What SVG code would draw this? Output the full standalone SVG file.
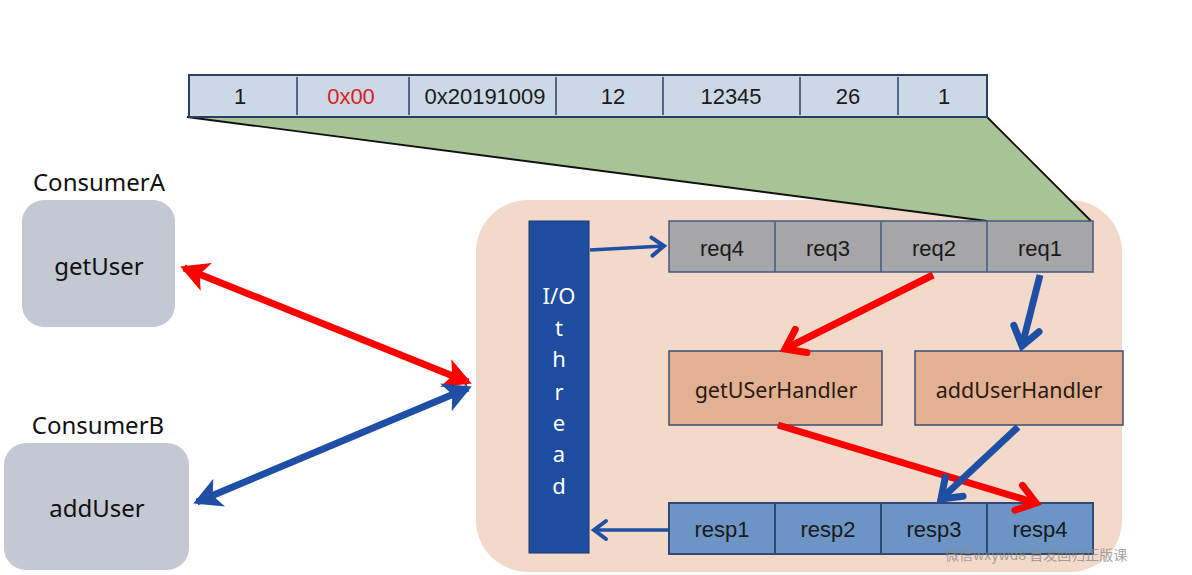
<svg xmlns="http://www.w3.org/2000/svg" width="1192" height="575" viewBox="0 0 1192 575">
<defs>
<style>
.t{font-family:"Liberation Sans",Arial,sans-serif;font-size:22px;fill:#1a1a1a;text-anchor:middle;dominant-baseline:central}
.n{font-family:"Noto Sans","Open Sans",sans-serif;font-size:24px;fill:#111;text-anchor:middle;dominant-baseline:central}
.h{font-family:"Noto Sans","Open Sans",sans-serif;font-size:21.5px;fill:#2a1a10;text-anchor:middle;dominant-baseline:central}
.bar{fill:#cdd8e7;stroke:#2b3f66;stroke-width:2}
.div{stroke:#2b3f66;stroke-width:1.5}
.req{fill:#a6a6a8;stroke:#44587e;stroke-width:1.5}
.resp{fill:#6c95c5;stroke:#2d4a78;stroke-width:2}
.hand{fill:#e2b193;stroke:#3d4f72;stroke-width:1.5}
.cons{fill:#c3c8d2}
.io{font-family:"Noto Sans","Open Sans",sans-serif;font-size:22px;fill:#fff;text-anchor:middle;dominant-baseline:central}
.red{stroke:#ff0000;stroke-width:7;fill:none}
.blue{stroke:#1f4fa5;stroke-width:7;fill:none}
.thin{stroke:#1f4fa5;stroke-width:3.5;fill:none}
</style>
<marker id="chR" markerUnits="userSpaceOnUse" viewBox="-30 -20 40 40" markerWidth="40" markerHeight="40" refX="0" refY="0" orient="auto" overflow="visible"><path d="M-18,-13 L0,0 L-18,13" fill="none" stroke="#ff0000" stroke-width="7" stroke-linecap="round"/></marker>
<marker id="chB" markerUnits="userSpaceOnUse" viewBox="-30 -20 40 40" markerWidth="40" markerHeight="40" refX="0" refY="0" orient="auto" overflow="visible"><path d="M-18,-13 L0,0 L-18,13" fill="none" stroke="#1f4fa5" stroke-width="7" stroke-linecap="round"/></marker>
<marker id="chBs" markerUnits="userSpaceOnUse" viewBox="-30 -20 40 40" markerWidth="40" markerHeight="40" refX="0" refY="0" orient="auto" overflow="visible"><path d="M-12,-9 L0,0 L-12,9" fill="none" stroke="#1f4fa5" stroke-width="4" stroke-linecap="round"/></marker>
<marker id="hR" markerUnits="userSpaceOnUse" viewBox="-30 -20 40 40" markerWidth="40" markerHeight="40" refX="0" refY="0" orient="auto-start-reverse" overflow="visible"><path d="M4,0 L-24,-15 L-17,0 L-24,15 Z" fill="#ff0000"/></marker>
<marker id="hB" markerUnits="userSpaceOnUse" viewBox="-30 -20 40 40" markerWidth="40" markerHeight="40" refX="0" refY="0" orient="auto-start-reverse" overflow="visible"><path d="M4,0 L-24,-15 L-17,0 L-24,15 Z" fill="#1f4fa5"/></marker>
</defs>
<rect width="1192" height="575" fill="#ffffff"/>

<g id="server-bg"><rect x="476" y="200" width="646" height="372" rx="52" fill="#f3d9c9"/></g>

<g id="zoom-trapezoid"><polygon points="187,117 987,117 1091,221 987,221" fill="#a8c497"/><polyline points="187,117 987,221" fill="none" stroke="#111" stroke-width="1.8"/><polyline points="987,117 1091,221" fill="none" stroke="#111" stroke-width="1.8"/></g>

<g id="header-bar">
<rect class="bar" x="189" y="75" width="798" height="42"/>
<line class="div" x1="297" y1="77" x2="297" y2="115"/>
<line class="div" x1="409" y1="77" x2="409" y2="115"/>
<line class="div" x1="556" y1="77" x2="556" y2="115" stroke="#777"/>
<line class="div" x1="663" y1="77" x2="663" y2="115"/>
<line class="div" x1="800" y1="77" x2="800" y2="115" stroke="#777"/>
<line class="div" x1="898" y1="77" x2="898" y2="115" stroke="#777"/>
<text class="t" x="240" y="96">1</text>
<text class="t" x="351" y="96" style="fill:#d9201c">0x00</text>
<text class="t" x="485" y="96">0x20191009</text>
<text class="t" x="613" y="96">12</text>
<text class="t" x="731" y="96">12345</text>
<text class="t" x="848" y="96">26</text>
<text class="t" x="944" y="96">1</text>
</g>

<g id="consumerA">
<text class="n" x="99" y="181">ConsumerA</text>
<rect class="cons" x="22" y="200" width="153" height="127" rx="22"/>
<text class="n" x="99" y="265">getUser</text>
</g>
<g id="consumerB">
<text class="n" x="98" y="424">ConsumerB</text>
<rect class="cons" x="4" y="443" width="185" height="127" rx="22"/>
<text class="n" x="97" y="507">addUser</text>
</g>

<g id="io-thread">
<rect x="529" y="221" width="60" height="332" fill="#1e4c9f" stroke="#1a3670" stroke-width="1"/>
<text class="io" x="559" y="295">I/O</text>
<text class="io" x="559" y="327">t</text>
<text class="io" x="559" y="358">h</text>
<text class="io" x="559" y="391">r</text>
<text class="io" x="559" y="422">e</text>
<text class="io" x="559" y="453">a</text>
<text class="io" x="559" y="485">d</text>
</g>

<g id="req-queue">
<rect class="req" x="669" y="221" width="424" height="51"/>
<line class="div" x1="775" y1="221" x2="775" y2="272" style="stroke:#44587e"/>
<line class="div" x1="881" y1="221" x2="881" y2="272" style="stroke:#44587e"/>
<line class="div" x1="987" y1="221" x2="987" y2="272" style="stroke:#44587e"/>
<text class="t" x="722" y="248">req4</text>
<text class="t" x="828" y="248">req3</text>
<text class="t" x="934" y="248">req2</text>
<text class="t" x="1040" y="248">req1</text>
</g>

<g id="getUSerHandler"><rect class="hand" x="669" y="351" width="213" height="74"/><text class="h" x="776" y="389">getUSerHandler</text></g>
<g id="addUserHandler"><rect class="hand" x="915" y="351" width="208" height="74"/><text class="h" x="1019" y="389">addUserHandler</text></g>

<g id="resp-queue">
<rect class="resp" x="669" y="503" width="424" height="51"/>
<line class="div" x1="775" y1="503" x2="775" y2="554" style="stroke:#2d4a78;stroke-width:2"/>
<line class="div" x1="881" y1="503" x2="881" y2="554" style="stroke:#2d4a78;stroke-width:2"/>
<line class="div" x1="987" y1="503" x2="987" y2="554" style="stroke:#2d4a78;stroke-width:2"/>
<text class="t" x="722" y="529">resp1</text>
<text class="t" x="828" y="529">resp2</text>
<text class="t" x="934" y="529">resp3</text>
<text class="t" x="1040" y="529">resp4</text>
</g>

<g id="connectors">
<line class="thin" x1="590" y1="250" x2="664" y2="246" marker-end="url(#chBs)"/>
<line class="thin" x1="668" y1="530" x2="594" y2="530" marker-end="url(#chBs)"/>
<line class="red" x1="933" y1="275" x2="785" y2="349" marker-end="url(#chR)"/>
<line class="blue" x1="1040" y1="275" x2="1022" y2="346" marker-end="url(#chB)"/>
<line class="red" x1="778" y1="425" x2="1036" y2="503" marker-end="url(#chR)"/>
<line class="blue" x1="1018" y1="427" x2="941" y2="499" marker-end="url(#chB)"/>
<line class="red" x1="184" y1="268" x2="468" y2="382" marker-start="url(#hR)" marker-end="url(#hR)"/>
<line class="blue" x1="197" y1="502" x2="468" y2="388" marker-start="url(#hB)" marker-end="url(#hB)"/>
</g>

<g id="watermark"><text x="945" y="560" style="font-family:'Noto Sans CJK SC','Noto Sans',sans-serif;font-size:14px;fill:#8a8a8a;opacity:0.75">微信wxywd8 首发回归正版课</text></g>
</svg>
